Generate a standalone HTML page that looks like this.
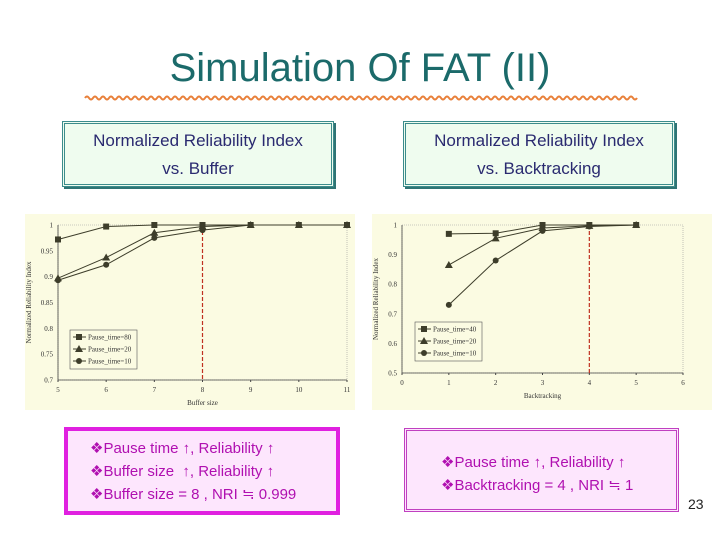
<!DOCTYPE html>
<html><head><meta charset="utf-8"><style>
body{margin:0;width:720px;height:540px;background:#fff;position:relative;overflow:hidden;font-family:"Liberation Sans",sans-serif}
.abs{position:absolute}
.title{left:0;width:720px;top:46px;text-align:center;font-size:40px;color:#1b6a6a}
.hbox{background:#effcef;border:3px double #3c8c8c;box-shadow:2px 2px 0 #2f7474;color:#2a2a70;font-size:17px;text-align:center;line-height:28px;box-sizing:border-box;padding-top:3px}
.nbox{background:#fde6fd;color:#b010b0;font-size:15px;line-height:23px;box-sizing:border-box}
</style></head><body>
<div class="abs title">Simulation Of FAT (II)</div>
<svg class="abs" style="left:0;top:0" width="720" height="540">
<path id="wave" fill="none" stroke="#e8803a" stroke-width="2" d=""/>
</svg>
<div class="abs hbox" style="left:62px;top:121px;width:272px;height:66px">Normalized Reliability Index<br>vs. Buffer</div>
<div class="abs hbox" style="left:403px;top:121px;width:272px;height:66px">Normalized Reliability Index<br>vs. Backtracking</div>
<svg class="abs" style="left:0;top:0" width="720" height="540" id="charts"></svg>
<div class="abs nbox" style="left:64px;top:427px;width:276px;height:88px;border:4px solid #e020e0;padding:6px 0 0 22px">❖Pause time ↑, Reliability ↑<br>❖Buffer size &nbsp;↑, Reliability ↑<br>❖Buffer size = 8 , NRI ≒ 0.999</div>
<div class="abs nbox" style="left:404px;top:428px;width:275px;height:84px;border:3px double #c040c0;padding:20px 0 0 34px">❖Pause time ↑, Reliability ↑<br>❖Backtracking = 4 , NRI ≒ 1</div>
<div class="abs" style="left:688px;top:496px;font-size:14px;color:#222">23</div>
<script>
(function(){let d='M85,98';for(let x=85;x<635;x+=8){d+=' q2,-3 4,0 q2,3 4,0';}document.getElementById('wave').setAttribute('d',d);})();

const bufX=[5,6,7,8,9,10,11];
const bufP80=[0.972,0.997,1,1,1,1,1];
const bufP20=[0.897,0.937,0.985,0.997,1,1,1];
const bufP10=[0.893,0.923,0.975,0.99,1,1,1];
const bufXTicks=[5,6,7,8,9,10,11];
const bufYTicks=[0.7,0.75,0.8,0.85,0.9,0.95,1];
const bufLegend=['Pause_time=80','Pause_time=20','Pause_time=10'];
const btX=[1,2,3,4,5];
const btP40=[0.97,0.972,1,1,1];
const btP20=[0.865,0.955,0.99,0.997,1];
const btP10=[0.73,0.88,0.98,0.995,1];
const btXTicks=[0,1,2,3,4,5,6];
const btYTicks=[0.5,0.6,0.7,0.8,0.9,1];
const btLegend=['Pause_time=40','Pause_time=20','Pause_time=10'];

const NS='http://www.w3.org/2000/svg';
const svg=document.getElementById('charts');
function mk(t,a,p){const e=document.createElementNS(NS,t);for(const k in a)e.setAttribute(k,a[k]);(p||svg).appendChild(e);return e;}
function marker(shape,x,y,g){
  let e;
  if(shape==='sq')e=mk('rect',{x:x-3,y:y-3,width:6,height:6,fill:'#3d3d2a'},g);
  else if(shape==='tri')e=mk('path',{d:`M${x},${y-4}L${x+4},${y+3}L${x-4},${y+3}Z`,fill:'#3d3d2a'},g);
  else e=mk('circle',{cx:x,cy:y,r:3,fill:'#3d3d2a'},g);
  return e;
}
function chart(o){
  const g=mk('g',{});
  
  
  const bg=mk('rect',{x:o.bx,y:o.by,width:o.bw,height:o.bh,fill:'#fbfbe2'},g);
  
  
  const sx=v=>o.x0+(v-o.xmin)/(o.xmax-o.xmin)*(o.x1-o.x0);
  const sy=v=>o.y1-(v-o.ymin)/(o.ymax-o.ymin)*(o.y1-o.y0);
  mk('rect',{x:o.x0,y:o.y0,width:o.x1-o.x0,height:o.y1-o.y0,fill:'none',stroke:'#999',"stroke-width":0.6,"stroke-dasharray":'1 1'},g);
  mk('line',{x1:o.x0,y1:o.y1,x2:o.x1,y2:o.y1,stroke:'#444',"stroke-width":0.8},g);
  mk('line',{x1:o.x0,y1:o.y0,x2:o.x0,y2:o.y1,stroke:'#444',"stroke-width":0.8},g);
  o.xt.forEach(v=>{mk('line',{x1:sx(v),y1:o.y1,x2:sx(v),y2:o.y1+2,stroke:'#444'},g);
    const t=mk('text',{x:sx(v),y:o.y1+12,"font-size":7,"text-anchor":'middle',fill:'#333',"font-family":'Liberation Serif'},g);t.textContent=v;
    });
  o.yt.forEach(v=>{const t=mk('text',{x:o.x0-5,y:sy(v)+2.5,"font-size":7,"text-anchor":'end',fill:'#333',"font-family":'Liberation Serif'},g);t.textContent=v;
    });
  const xl=mk('text',{x:(o.x0+o.x1)/2,y:o.y1+25,"font-size":7,"text-anchor":'middle',fill:'#333',"font-family":'Liberation Serif'},g);xl.textContent=o.xlabel;
  
  const yx=o.bx+6,yy=(o.y0+o.y1)/2;
  const yl=mk('text',{x:yx,y:yy,"font-size":7,"text-anchor":'middle',fill:'#333',"font-family":'Liberation Serif',transform:`rotate(-90 ${yx} ${yy})`},g);yl.textContent='Normalized Reliability Index';
  
  const rl=mk('line',{x1:sx(o.red),y1:o.y0,x2:sx(o.red),y2:o.y1,stroke:'#c03020',"stroke-width":1.2,"stroke-dasharray":'4 2'},g);
  
  const shapes=['sq','tri','circ'];
  o.series.forEach((s,i)=>{
    const pts=o.xs.map((x,j)=>sx(x)+','+sy(s[j])).join(' ');
    const pl=mk('polyline',{points:pts,fill:'none',stroke:'#3d3d2a',"stroke-width":1},g);
    
    o.xs.forEach((x,j)=>{const m=marker(shapes[i],sx(x),sy(s[j]),g);
      });
  });
  const lx=o.lx,ly=o.ly;
  mk('rect',{x:lx,y:ly,width:o.lw,height:39,fill:'none',stroke:'#555',"stroke-width":0.6},g);
  o.legend.forEach((l,i)=>{const yy=ly+7+i*12;
    mk('line',{x1:lx+3,y1:yy,x2:lx+16,y2:yy,stroke:'#3d3d2a'},g);marker(shapes[i],lx+9,yy,g);
    const t=mk('text',{x:lx+18,y:yy+2.5,"font-size":7,fill:'#333',"font-family":'Liberation Serif'},g);t.textContent=l;
    });
}
chart({name:'buffer-chart',bx:25,by:214,bw:330,bh:196,x0:58,x1:347,y0:225,y1:380,xmin:5,xmax:11,ymin:0.7,ymax:1,
  xt:bufXTicks,yt:bufYTicks,xs:bufX,series:[bufP80,bufP20,bufP10],legend:bufLegend,red:8,xlabel:'Buffer size',lx:70,ly:330,lw:67});
chart({name:'backtracking-chart',bx:372,by:214,bw:340,bh:196,x0:402,x1:683,y0:225,y1:373,xmin:0,xmax:6,ymin:0.5,ymax:1,
  xt:btXTicks,yt:btYTicks,xs:btX,series:[btP40,btP20,btP10],legend:btLegend,red:4,xlabel:'Backtracking',lx:415,ly:322,lw:67});
</script>
</body></html>
